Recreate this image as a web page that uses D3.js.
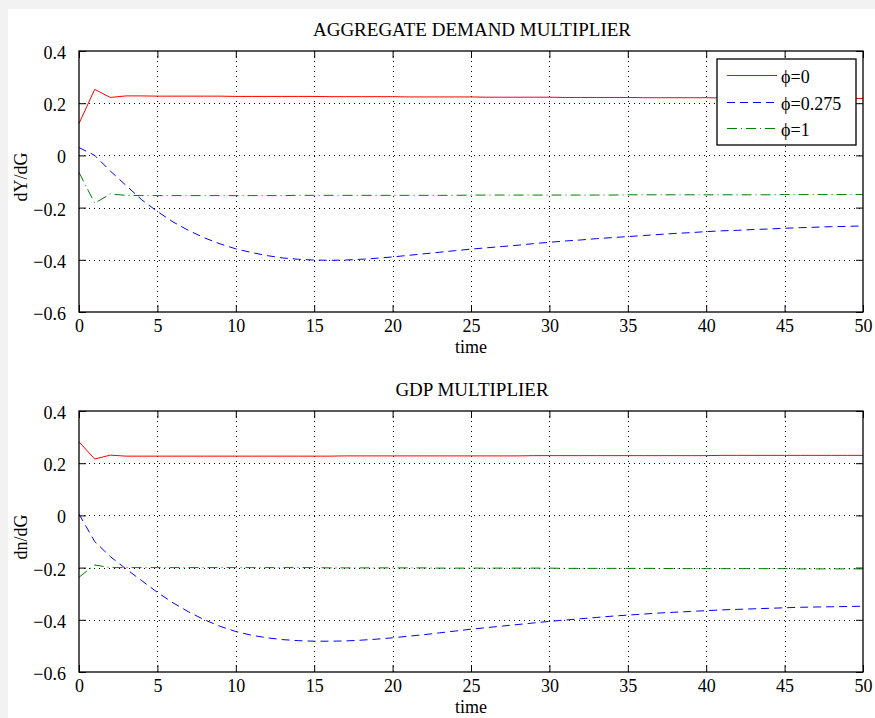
<!DOCTYPE html>
<html><head><meta charset="utf-8">
<script src="https://cdn.jsdelivr.net/npm/d3@7"></script>
<style>
body{margin:0;background:#f2f2f2;}
svg{display:block;font-family:"Liberation Serif",serif;}
text{font-family:"Liberation Serif","Times New Roman",serif !important;fill:#000;}
</style></head><body>
<svg id="c" width="875" height="718"></svg>
<script>
const time = d3.range(0, 51);
const xTicks = [0,5,10,15,20,25,30,35,40,45,50];
const yTicks = [0.4,0.2,0,-0.2,-0.4,-0.6];
const yTickLabels = ["0.4","0.2","0","\u22120.2","\u22120.4","\u22120.6"];
const seriesNames = ["\u03d5=0","\u03d5=0.275","\u03d5=1"];

// Aggregate demand multiplier dY/dG
const adPhi0 = [0.122,0.253,0.222,0.228,0.228,0.227,0.227,0.227,0.227,0.227,0.226,0.226,0.226,0.226,0.226,0.226,0.225,0.225,0.225,0.225,0.225,0.224,0.224,0.224,0.224,0.224,0.223,0.223,0.223,0.223,0.223,0.222,0.222,0.222,0.222,0.222,0.221,0.221,0.221,0.221,0.221,0.220,0.220,0.220,0.220,0.220,0.219,0.219,0.219,0.219,0.218];
const adPhi0275 = [0.03,0.0,-0.06,-0.115,-0.17,-0.215,-0.255,-0.288,-0.316,-0.339,-0.358,-0.372,-0.384,-0.393,-0.398,-0.401,-0.402,-0.401,-0.398,-0.394,-0.389,-0.383,-0.377,-0.371,-0.365,-0.359,-0.354,-0.349,-0.344,-0.338,-0.333,-0.328,-0.324,-0.319,-0.315,-0.311,-0.307,-0.303,-0.299,-0.296,-0.292,-0.289,-0.287,-0.284,-0.282,-0.279,-0.277,-0.275,-0.273,-0.272,-0.27];
const adPhi1 = [-0.065,-0.183,-0.148,-0.153,-0.154,-0.154,-0.154,-0.154,-0.154,-0.154,-0.154,-0.154,-0.154,-0.154,-0.153,-0.153,-0.153,-0.153,-0.153,-0.153,-0.153,-0.153,-0.153,-0.153,-0.153,-0.152,-0.152,-0.152,-0.152,-0.152,-0.152,-0.152,-0.152,-0.152,-0.152,-0.151,-0.151,-0.151,-0.151,-0.151,-0.151,-0.151,-0.151,-0.151,-0.151,-0.150,-0.150,-0.150,-0.150,-0.150,-0.150];

// GDP multiplier dn/dG
const gdpPhi0 = [0.282,0.216,0.231,0.227,0.227,0.227,0.227,0.227,0.227,0.227,0.227,0.227,0.227,0.227,0.227,0.227,0.227,0.228,0.228,0.228,0.228,0.228,0.228,0.228,0.228,0.228,0.228,0.228,0.228,0.229,0.229,0.229,0.229,0.229,0.229,0.229,0.229,0.229,0.229,0.229,0.229,0.230,0.230,0.230,0.230,0.230,0.230,0.230,0.230,0.230,0.230];
const gdpPhi0275 = [0.005,-0.1,-0.158,-0.205,-0.25,-0.295,-0.335,-0.37,-0.4,-0.425,-0.445,-0.459,-0.469,-0.476,-0.48,-0.482,-0.482,-0.481,-0.478,-0.474,-0.469,-0.463,-0.457,-0.45,-0.443,-0.436,-0.43,-0.424,-0.418,-0.412,-0.406,-0.401,-0.396,-0.391,-0.386,-0.382,-0.378,-0.374,-0.371,-0.368,-0.365,-0.362,-0.36,-0.358,-0.356,-0.354,-0.352,-0.351,-0.35,-0.349,-0.348];
const gdpPhi1 = [-0.237,-0.19,-0.2,-0.2,-0.2,-0.2,-0.2,-0.2,-0.2,-0.2,-0.2,-0.2,-0.2,-0.2,-0.2,-0.2,-0.201,-0.201,-0.201,-0.201,-0.201,-0.201,-0.201,-0.202,-0.202,-0.202,-0.202,-0.202,-0.202,-0.202,-0.202,-0.203,-0.203,-0.203,-0.203,-0.203,-0.203,-0.203,-0.204,-0.204,-0.204,-0.204,-0.204,-0.204,-0.204,-0.204,-0.205,-0.205,-0.205,-0.205,-0.205];

const colors = ["#ff0000","#0000ff","#008000"];
const dashes = [null,"8,5","10,4,1,4"];
const SERIF = "Liberation Serif";

const svg = d3.select("#c");
svg.append("rect").attr("x",8).attr("y",9).attr("width",867).attr("height",709).attr("fill","#fff");

const x = d3.scaleLinear().domain([0,50]).range([79,863]);

function panel(top, title, ylabel, series, legend){
  const y = d3.scaleLinear().domain([-0.6,0.4]).range([top+261, top]);
  const g = svg.append("g");
  // grid
  g.selectAll(".gx").data(xTicks.slice(1,-1)).join("line")
    .attr("x1",d=>Math.round(x(d))+0.5).attr("x2",d=>Math.round(x(d))+0.5).attr("y1",top).attr("y2",top+261)
    .attr("stroke","#000").attr("stroke-width",1).attr("stroke-dasharray","1,4");
  g.selectAll(".gy").data(yTicks.slice(1,-1)).join("line")
    .attr("x1",79).attr("x2",863).attr("y1",d=>Math.round(y(d))+0.5).attr("y2",d=>Math.round(y(d))+0.5)
    .attr("stroke","#000").attr("stroke-width",1).attr("stroke-dasharray","1,4");
  // axes with ticks inside
  const axB = g.append("g").attr("transform",`translate(0,${top+261})`)
    .call(d3.axisBottom(x).tickValues(xTicks).tickSize(-7).tickPadding(7).tickFormat(d3.format("d")));
  const axT = g.append("g").attr("transform",`translate(0,${top})`)
    .call(d3.axisTop(x).tickValues(xTicks).tickSize(-7).tickFormat(""));
  const axL = g.append("g").attr("transform",`translate(79,0)`)
    .call(d3.axisLeft(y).tickValues(yTicks).tickSize(-7).tickPadding(13).tickFormat((d,i)=>yTickLabels[i]));
  const axR = g.append("g").attr("transform",`translate(863,0)`)
    .call(d3.axisRight(y).tickValues(yTicks).tickSize(-7).tickFormat(""));
  [axB,axT,axL,axR].forEach(a=>{
    a.attr("font-family",SERIF).attr("font-size",18);
    a.select(".domain").remove();
    a.selectAll("line").attr("stroke","#000");
    a.selectAll("text").attr("font-family",SERIF).style("font-family",SERIF).style("font-size","18px");
  });
  axL.selectAll("text").attr("dy","0.42em");
  // lines
  const line = d3.line().x((d,i)=>x(time[i])).y(d=>y(d));
  series.forEach((s,i)=>{
    g.append("path").datum(s).attr("d",line).attr("fill","none")
      .attr("stroke",colors[i]).attr("stroke-width",1)
      .attr("stroke-dasharray",dashes[i]);
  });
  // box
  g.append("rect").attr("x",79).attr("y",top).attr("width",784).attr("height",261)
    .attr("fill","none").attr("stroke","#000").attr("stroke-width",1.3);
  g.append("text").attr("x",472).attr("y",top-15).attr("text-anchor","middle")
    .style("font-size","19px").text(title);
  g.append("text").attr("x",471).attr("y",top+261+41).attr("text-anchor","middle")
    .style("font-size","18px").text("time");
  g.append("text").attr("transform",`translate(27,${top+126}) rotate(-90)`)
    .attr("text-anchor","middle").style("font-size","18px").text(ylabel);
  if(legend){
    const lg = g.append("g");
    lg.append("rect").attr("x",717).attr("y",59).attr("width",139).attr("height",86)
      .attr("fill","#fff").attr("stroke","#000").attr("stroke-width",1.3);
    seriesNames.forEach((n,i)=>{
      const yy = Math.round(75 + i*26.5)+0.5;
      lg.append("line").attr("x1",727).attr("x2",777).attr("y1",yy).attr("y2",yy)
        .attr("stroke",colors[i]).attr("stroke-width",1).attr("stroke-dasharray",dashes[i]);
      lg.append("text").attr("x",781).attr("y",yy+7).style("font-size","18px").text(n);
    });
  }
}
panel(51,"AGGREGATE DEMAND MULTIPLIER","dY/dG",[adPhi0,adPhi0275,adPhi1],true);
panel(411,"GDP MULTIPLIER","dn/dG",[gdpPhi0,gdpPhi0275,gdpPhi1],false);
</script></body></html>
